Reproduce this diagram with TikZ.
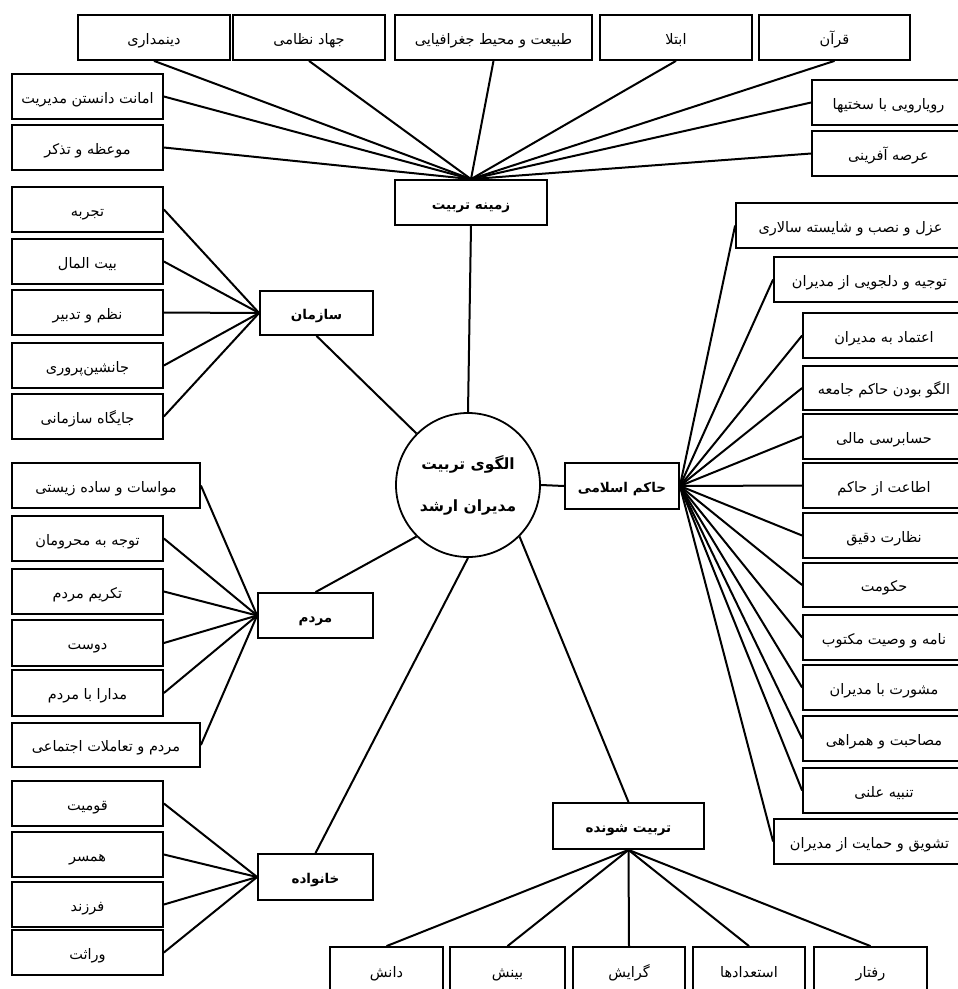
\documentclass[tikz,border=0pt]{standalone}
\usepackage{fontspec}
\TeXXeTstate=1
\newfontfamily\arabicfont[Script=Arabic]{DejaVu Sans}
\newcommand\rbox[7][]{\node[rb,#1,minimum width={(#5)-(#3)},minimum height={(#6)-(#4)}] (#2) at ({((#3)+(#5))/2},{((#4)+(#6))/2}) {#7};}
\tikzset{
  rb/.style={draw,rectangle,line width=1.8pt,inner sep=0pt,text height=13pt,text depth=0pt,font=\arabicfont\fontsize{14.5}{16}\selectfont},
  hub/.style={font=\arabicfont\bfseries\fontsize{13.5}{15}\selectfont},
  link/.style={line width=2pt}
}
\begin{document}
\begin{tikzpicture}[x=1pt,y=-1pt]
\useasboundingbox (0,0) rectangle (958,989);
\fill[white] (0,0) rectangle (958,989);
% top group
\rbox{t1}{78}{15}{230}{60}{\beginR دینمداری\endR}
\rbox{t2}{233}{15}{385}{60}{\beginR جهاد نظامی\endR}
\rbox{t3}{395}{15}{592}{60}{\beginR طبیعت و محیط جغرافیایی\endR}
\rbox{t4}{600}{15}{752}{60}{\beginR ابتلا\endR}
\rbox{t5}{759}{15}{910}{60}{\beginR قرآن\endR}
\rbox{l1}{12}{74}{163}{119}{\beginR امانت دانستن مدیریت\endR}
\rbox{l2}{12}{125}{163}{170}{\beginR موعظه و تذکر\endR}
\rbox{r1}{812}{80}{965}{125}{\beginR رویارویی با سختیها\endR}
\rbox{r2}{812}{131}{965}{176}{\beginR عرصه آفرینی\endR}
\rbox[hub]{zam}{395}{180}{547}{225}{\beginR زمینه تربیت\endR}
\foreach \n in {t1,t2,t3,t4,t5} \draw[link] (\n.south) -- (zam.north);
\foreach \n in {l1,l2} \draw[link] (\n.east) -- (zam.north);
\foreach \n in {r1,r2} \draw[link] (\n.west) -- (zam.north);
% center
\node[draw,circle,line width=1.8pt,minimum size=144pt,inner sep=0pt,align=center,font=\arabicfont\bfseries\fontsize{15.5}{18}\selectfont] (c) at (468,485) {\beginR الگوی تربیت\endR\\[24pt]\beginR مدیران ارشد\endR};
\draw[link] (zam.south) -- (c.north);
% sazman
\rbox{s1}{12}{187}{163}{232}{\beginR تجربه\endR}
\rbox{s2}{12}{239}{163}{284}{\beginR بیت المال\endR}
\rbox{s3}{12}{290}{163}{335}{\beginR نظم و تدبیر\endR}
\rbox{s4}{12}{343}{163}{388}{\beginR جانشین‌پروری\endR}
\rbox{s5}{12}{394}{163}{439}{\beginR جایگاه سازمانی\endR}
\rbox[hub]{saz}{260}{291}{373}{335}{\beginR سازمان\endR}
\foreach \n in {s1,s2,s3,s4,s5} \draw[link] (\n.east) -- (saz.west);
\draw[link] (saz.south) -- (c.135);
% mardom
\rbox{m1}{12}{463}{200}{508}{\beginR مواسات و ساده زیستی\endR}
\rbox{m2}{12}{516}{163}{561}{\beginR توجه به محرومان\endR}
\rbox{m3}{12}{569}{163}{614}{\beginR تکریم مردم\endR}
\rbox{m4}{12}{620}{163}{666}{\beginR دوست\endR}
\rbox{m5}{12}{670}{163}{716}{\beginR مدارا با مردم\endR}
\rbox{m6}{12}{723}{200}{767}{\beginR مردم و تعاملات اجتماعی\endR}
\rbox[hub]{mar}{258}{593}{373}{638}{\beginR مردم\endR}
\foreach \n in {m1,m2,m3,m4,m5,m6} \draw[link] (\n.east) -- (mar.west);
\draw[link] (mar.north) -- (c.225);
% khanevade
\rbox{k1}{12}{781}{163}{826}{\beginR قومیت\endR}
\rbox{k2}{12}{832}{163}{877}{\beginR همسر\endR}
\rbox{k3}{12}{882}{163}{927}{\beginR فرزند\endR}
\rbox{k4}{12}{930}{163}{975}{\beginR وراثت\endR}
\rbox[hub]{kha}{258}{854}{373}{900}{\beginR خانواده\endR}
\foreach \n in {k1,k2,k3,k4} \draw[link] (\n.east) -- (kha.west);
\draw[link] (kha.north) -- (c.south);
% tarbiat shavande
\rbox[hub]{tsh}{553}{803}{704}{849}{\beginR تربیت شونده\endR}
\rbox{b1}{330}{947}{443}{995}{\beginR دانش\endR}
\rbox{b2}{450}{947}{565}{995}{\beginR بینش\endR}
\rbox{b3}{573}{947}{685}{995}{\beginR گرایش\endR}
\rbox{b4}{693}{947}{805}{995}{\beginR استعدادها\endR}
\rbox{b5}{814}{947}{927}{995}{\beginR رفتار\endR}
\foreach \n in {b1,b2,b3,b4,b5} \draw[link] (tsh.south) -- (\n.north);
\draw[link] (tsh.north) -- (c.-45);
% hakem
\rbox[hub]{hak}{565}{463}{679}{509}{\beginR حاکم اسلامی\endR}
\draw[link] (c.east) -- (hak.west);
\rbox{h1}{736}{203}{965}{248}{\beginR عزل و نصب و شایسته سالاری\endR}
\rbox{h2}{774}{257}{965}{302}{\beginR توجیه و دلجویی از مدیران\endR}
\rbox{h3}{803}{313}{965}{358}{\beginR اعتماد به مدیران\endR}
\rbox{h4}{803}{366}{965}{410}{\beginR الگو بودن حاکم جامعه\endR}
\rbox{h5}{803}{414}{965}{459}{\beginR حسابرسی مالی\endR}
\rbox{h6}{803}{463}{965}{508}{\beginR اطاعت از حاکم\endR}
\rbox{h7}{803}{513}{965}{558}{\beginR نظارت دقیق\endR}
\rbox{h8}{803}{563}{965}{607}{\beginR حکومت\endR}
\rbox{h9}{803}{615}{965}{660}{\beginR نامه و وصیت مکتوب\endR}
\rbox{h10}{803}{665}{965}{710}{\beginR مشورت با مدیران\endR}
\rbox{h11}{803}{716}{965}{761}{\beginR مصاحبت و همراهی\endR}
\rbox{h12}{803}{768}{965}{813}{\beginR تنبیه علنی\endR}
\rbox{h13}{774}{819}{965}{864}{\beginR تشویق و حمایت از مدیران\endR}
\foreach \n in {h1,h2,h3,h4,h5,h6,h7,h8,h9,h10,h11,h12,h13} \draw[link] (hak.east) -- (\n.west);
\end{tikzpicture}
\end{document}
